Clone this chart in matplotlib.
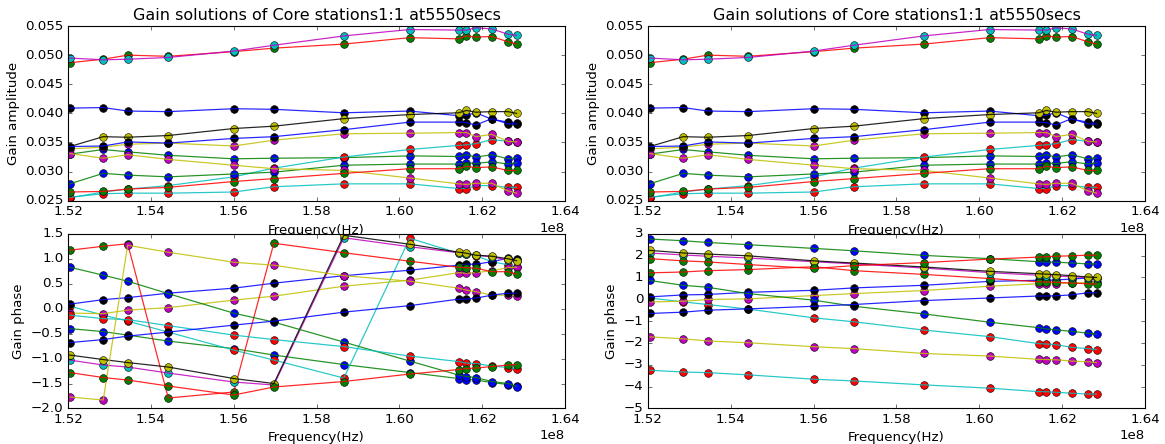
import matplotlib
matplotlib.use("Agg")
import matplotlib.pyplot as plt
from matplotlib.ticker import MultipleLocator
from cycler import cycler

# Sub-band centre frequencies (Hz)
freq_hz = [1.5204e8, 1.5285e8, 1.5344e8, 1.5442e8, 1.5600e8, 1.5697e8, 1.5866e8,
           1.6025e8, 1.6143e8, 1.6162e8, 1.6185e8, 1.6223e8, 1.6262e8, 1.6283e8]

# Gain amplitude per core station (rows) vs sub-band (columns)
amplitude = [
    [0.0330, 0.0338, 0.0334, 0.0328, 0.0322, 0.0323, 0.0324, 0.0327, 0.0326, 0.0329, 0.0325, 0.0329, 0.0322, 0.0324],
    [0.0255, 0.0265, 0.0270, 0.0276, 0.0291, 0.0306, 0.0325, 0.0338, 0.0345, 0.0346, 0.0348, 0.0355, 0.0352, 0.0350],
    [0.0339, 0.0342, 0.0347, 0.0349, 0.0344, 0.0354, 0.0365, 0.0366, 0.0367, 0.0367, 0.0360, 0.0364, 0.0352, 0.0351],
    [0.0409, 0.0410, 0.0404, 0.0403, 0.0408, 0.0407, 0.0401, 0.0404, 0.0396, 0.0397, 0.0401, 0.0390, 0.0385, 0.0384],
    [0.0487, 0.0493, 0.0500, 0.0498, 0.0506, 0.0512, 0.0519, 0.0530, 0.0528, 0.0533, 0.0531, 0.0532, 0.0523, 0.0519],
    [0.0495, 0.0492, 0.0493, 0.0496, 0.0507, 0.0517, 0.0533, 0.0544, 0.0543, 0.0543, 0.0547, 0.0545, 0.0536, 0.0534],
    [0.0343, 0.0360, 0.0359, 0.0362, 0.0374, 0.0378, 0.0391, 0.0398, 0.0401, 0.0405, 0.0402, 0.0403, 0.0403, 0.0400],
    [0.0279, 0.0297, 0.0294, 0.0291, 0.0296, 0.0299, 0.0311, 0.0313, 0.0313, 0.0315, 0.0314, 0.0317, 0.0313, 0.0315],
    [0.0256, 0.0262, 0.0263, 0.0263, 0.0265, 0.0274, 0.0279, 0.0279, 0.0271, 0.0271, 0.0276, 0.0276, 0.0273, 0.0273],
    [0.0331, 0.0323, 0.0329, 0.0321, 0.0311, 0.0305, 0.0302, 0.0289, 0.0279, 0.0278, 0.0280, 0.0280, 0.0267, 0.0263],
    [0.0343, 0.0344, 0.0351, 0.0349, 0.0357, 0.0360, 0.0372, 0.0385, 0.0385, 0.0384, 0.0380, 0.0391, 0.0382, 0.0382],
    [0.0265, 0.0266, 0.0270, 0.0273, 0.0283, 0.0288, 0.0297, 0.0305, 0.0305, 0.0309, 0.0307, 0.0308, 0.0302, 0.0302],
]

# Gain phase (radians), folded into the principal window
phase_folded = [
    [-0.40, -0.46, -0.53, -0.65, -0.80, -0.93, -1.12, -1.28, -1.40, -1.42, -1.43, -1.48, -1.52, -1.55],
    [0.05, -0.13, -0.25, -0.47, -0.83, -1.03, -1.39, 1.41, 1.11, 1.09, 1.06, 0.94, 0.88, 0.84],
    [-0.09, -0.10, -0.03, 0.02, 0.17, 0.25, 0.45, 0.57, 0.72, 0.71, 0.72, 0.76, 0.82, 0.83],
    [0.09, 0.18, 0.22, 0.31, 0.41, 0.51, 0.66, 0.77, 0.87, 0.89, 0.89, 0.94, 1.01, 0.99],
    [1.17, 1.25, 1.30, -1.79, -1.67, 1.31, 1.12, 0.95, 0.83, 0.82, 0.81, 0.74, 0.74, 0.69],
    [-1.03, -1.13, -1.17, -1.29, -1.47, -1.53, 1.42, 1.24, 1.12, 1.10, 1.07, 1.04, 0.97, 0.95],
    [-0.93, -1.02, -1.08, -1.17, -1.40, -1.50, 1.47, 1.29, 1.13, 1.11, 1.07, 1.05, 1.00, 0.96],
    [0.83, 0.67, 0.55, 0.30, -0.09, -0.27, -0.67, -1.05, -1.33, -1.36, -1.38, -1.46, -1.50, -1.56],
    [-0.13, -0.20, -0.22, -0.34, -0.53, -0.62, -0.76, -0.95, -1.06, -1.09, -1.10, -1.15, -1.18, -1.20],
    [-1.77, -1.83, 1.27, 1.13, 0.93, 0.87, 0.66, 0.55, 0.41, 0.37, 0.34, 0.27, 0.27, 0.26],
    [-0.68, -0.62, -0.55, -0.47, -0.33, -0.25, -0.07, 0.06, 0.19, 0.19, 0.21, 0.27, 0.31, 0.31],
    [-1.28, -1.38, -1.43, -1.55, -1.73, -1.57, -1.46, -1.31, -1.22, -1.20, -1.19, -1.16, -1.13, -1.12],
]

# Gain phase (radians), unwrapped across the band
phase_unwrapped = [
    [2.76, 2.68, 2.60, 2.50, 2.33, 2.22, 2.01, 1.86, 1.72, 1.71, 1.70, 1.66, 1.62, 1.62],
    [0.06, -0.12, -0.24, -0.45, -0.85, -1.03, -1.41, -1.71, -2.03, -2.05, -2.08, -2.20, -2.26, -2.30],
    [-0.12, -0.09, -0.01, 0.02, 0.17, 0.26, 0.40, 0.60, 0.71, 0.72, 0.72, 0.75, 0.77, 0.78],
    [0.11, 0.20, 0.22, 0.32, 0.41, 0.52, 0.64, 0.82, 0.87, 0.87, 0.88, 0.93, 0.97, 0.98],
    [1.21, 1.25, 1.31, 1.36, 1.49, 1.31, 1.14, 0.95, 0.80, 0.79, 0.78, 0.74, 0.71, 0.70],
    [2.12, 2.03, 1.97, 1.89, 1.72, 1.62, 1.43, 1.22, 1.10, 1.08, 1.06, 1.03, 0.99, 0.97],
    [2.24, 2.12, 2.07, 1.99, 1.76, 1.66, 1.48, 1.28, 1.17, 1.15, 1.13, 1.08, 1.02, 1.00],
    [0.86, 0.64, 0.55, 0.26, -0.04, -0.32, -0.67, -1.05, -1.30, -1.36, -1.40, -1.47, -1.55, -1.60],
    [-3.25, -3.33, -3.36, -3.46, -3.66, -3.74, -3.92, -4.07, -4.23, -4.23, -4.26, -4.30, -4.34, -4.34],
    [-1.72, -1.81, -1.91, -1.99, -2.17, -2.26, -2.48, -2.60, -2.75, -2.76, -2.77, -2.83, -2.86, -2.90],
    [-0.65, -0.59, -0.50, -0.44, -0.32, -0.24, -0.06, 0.06, 0.15, 0.15, 0.16, 0.20, 0.30, 0.30],
    [1.86, 1.76, 1.71, 1.59, 1.41, 1.54, 1.68, 1.84, 1.93, 1.95, 1.97, 1.99, 2.02, 2.02],
]

title_text = "Gain solutions of Core stations1:1 at5550secs"
x_label = "Frequency(Hz)"

plt.style.use("classic")
plt.rcParams.update({
    "font.family": ["DejaVu Sans"],
    "font.size": 12,
    "figure.facecolor": "white",
    "savefig.facecolor": "white",
})

fig, axes = plt.subplots(2, 2, figsize=(1165 / 80, 444 / 80), dpi=80)
fig.subplots_adjust(left=0.0584, right=0.9828, bottom=0.080, top=0.9414,
                    wspace=0.167, hspace=0.189)


def draw_panel(ax, rows, ylabel, ylim, ystep, title=None):
    ax.set_prop_cycle(cycler(color=list("bgrcmyk")))
    for row in rows:
        ax.plot(freq_hz, row, "o", ms=7, mec="k", mew=0.5)
        ax.plot(freq_hz, row, "-", lw=1.1, alpha=0.85)
    ax.set_xlim(1.52e8, 1.64e8)
    ax.set_ylim(*ylim)
    ax.xaxis.set_major_locator(MultipleLocator(0.02e8))
    ax.yaxis.set_major_locator(MultipleLocator(ystep))
    ax.set_xlabel(x_label)
    ax.set_ylabel(ylabel)
    if title:
        ax.set_title(title)


draw_panel(axes[0, 0], amplitude, "Gain amplitude", (0.025, 0.055), 0.005, title_text)
draw_panel(axes[0, 1], amplitude, "Gain amplitude", (0.025, 0.055), 0.005, title_text)
draw_panel(axes[1, 0], phase_folded, "Gain phase", (-2.0, 1.5), 0.5)
draw_panel(axes[1, 1], phase_unwrapped, "Gain phase", (-5, 3), 1)

fig.savefig("out.png", dpi=80)
